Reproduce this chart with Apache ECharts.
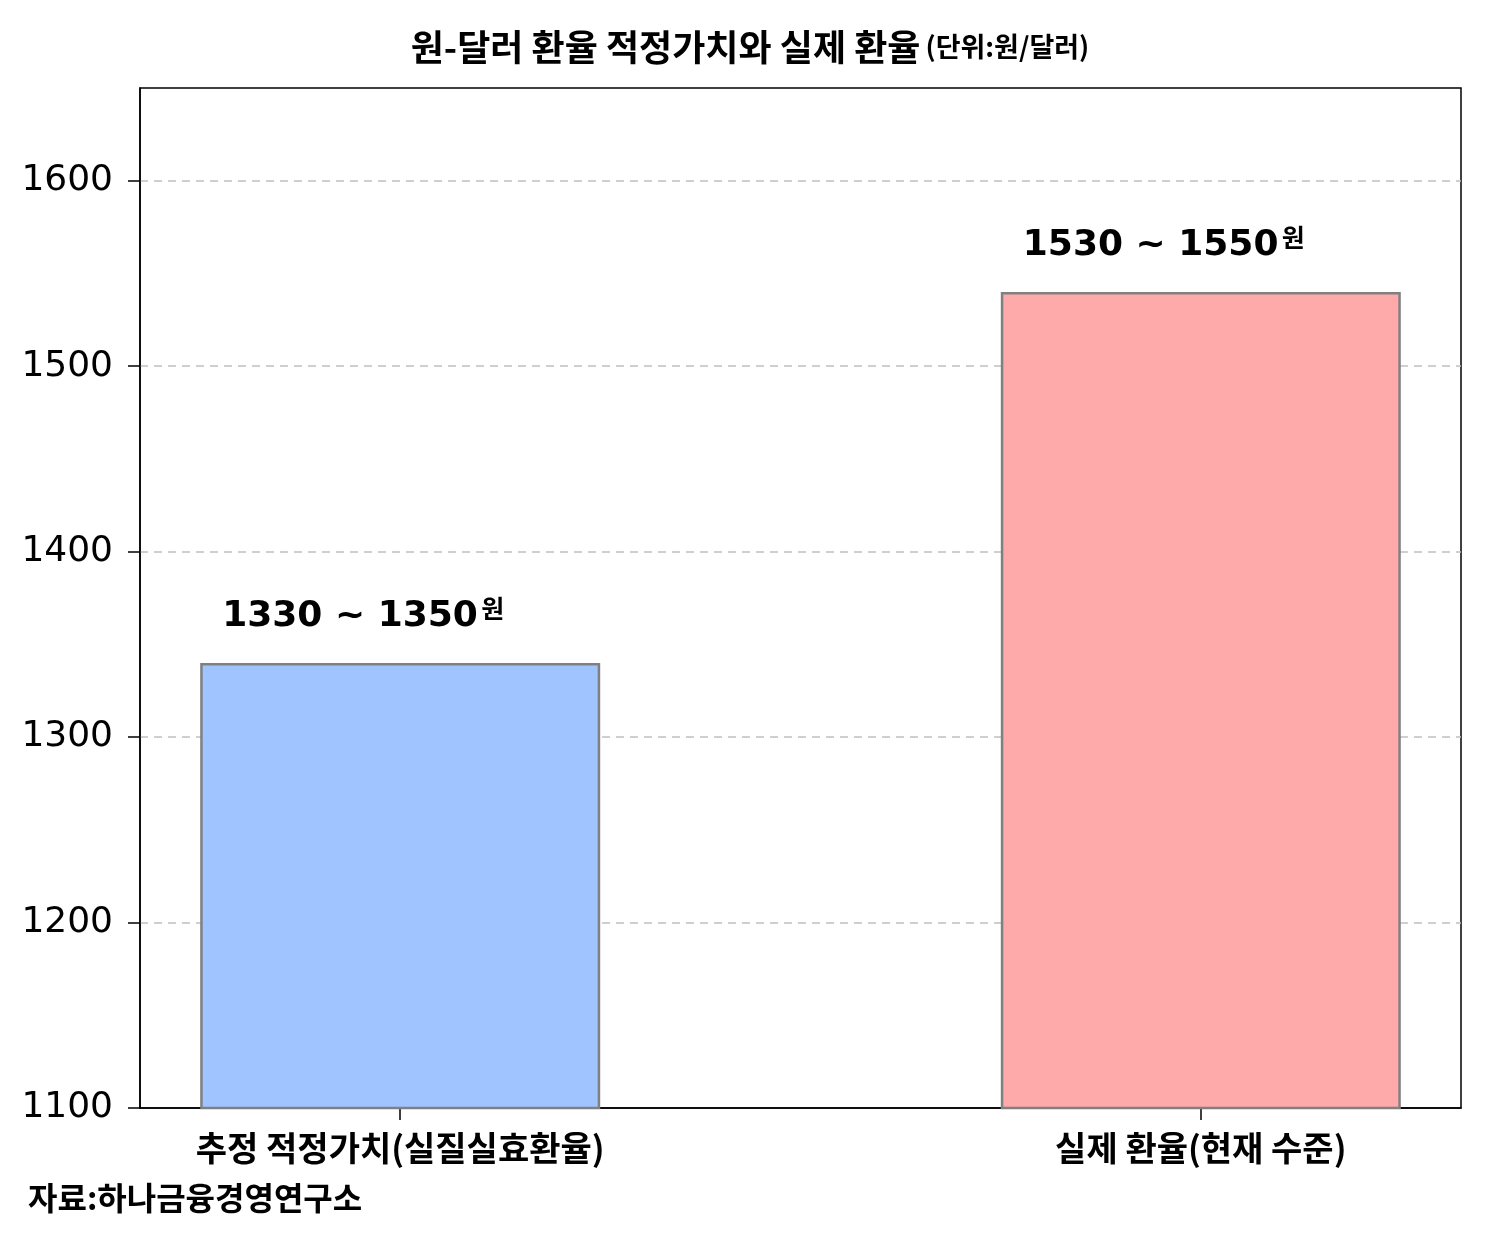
<!DOCTYPE html>
<html>
<head>
<meta charset="utf-8">
<script src="https://cdn.jsdelivr.net/npm/echarts@6/dist/echarts.min.js"></script>
<style>
  html, body { margin: 0; padding: 0; background: #fff; }
  #chart { width: 1500px; height: 1245px; }
</style>
</head>
<body>
<div id="chart"></div>
<script>
// 데이터
var categories = ['추정 적정가치(실질실효환율)', '실제 환율(현재 수준)'];
var values = [1340, 1540];
var rangeLabels = ['1330 ~ 1350', '1530 ~ 1550'];
var barColors = ['#a0c4ff', '#ffaaaa'];
var yTicks = [1100, 1200, 1300, 1400, 1500, 1600];

var FONT = '"DejaVu Sans", "Noto Sans CJK KR", sans-serif';
var KFONT = '"Noto Sans CJK KR", "DejaVu Sans", sans-serif';

var chart = echarts.init(document.getElementById('chart'));

chart.setOption({
	backgroundColor: '#fff',
	animation: false,
	title: {
		text: '{m|원-달러 환율 적정가치와 실제 환율} {s|(단위:원/달러)}',
		left: 'center',
		top: 24,
		textStyle: {
			rich: {
				m: { fontFamily: KFONT, fontSize: 36, fontWeight: 'bold', color: '#000' },
				s: { fontFamily: KFONT, fontSize: 27, fontWeight: 'bold', color: '#000' }
			}
		}
	},
	grid: {
		left: 140,
		right: 39,
		top: 88,
		bottom: 137,
		show: true,
		borderColor: '#000',
		borderWidth: 1.5
	},
	xAxis: {
		type: 'value',
		min: -0.325,
		max: 1.325,
		axisLine: { show: true, onZero: false, lineStyle: { color: '#000', width: 1.5 } },
		splitLine: { show: false },
		axisTick: {
			show: true,
			customValues: [0, 1],
			length: 12,
			lineStyle: { color: '#000', width: 1.5 }
		},
		axisLabel: {
			customValues: [0, 1],
			margin: 23,
			fontFamily: KFONT,
			fontSize: 34,
			fontWeight: 'bold',
			color: '#000',
			formatter: function (v) { return categories[Math.round(v)] || ''; }
		}
	},
	yAxis: {
		type: 'value',
		min: 1100,
		max: 1650,
		interval: 100,
		axisLine: { show: true, onZero: false, lineStyle: { color: '#000', width: 1.5 } },
		axisTick: {
			show: true,
			customValues: yTicks,
			length: 12,
			lineStyle: { color: '#000', width: 1.5 }
		},
		axisLabel: {
			customValues: yTicks,
			margin: 27,
			fontFamily: FONT,
			fontSize: 36,
			color: '#000',
			formatter: function (v) { return String(v); }
		},
		splitLine: {
			show: true,
			showMinLine: false,
			lineStyle: { color: '#c0c0c0', type: [8, 6], width: 1.5 }
		}
	},
	series: [{
		type: 'bar',
		barWidth: 400,
		data: values.map(function (v, i) {
			return {
				value: [i, v],
				itemStyle: { color: barColors[i], borderColor: '#808080', borderWidth: 2.5 },
				label: {
					show: true,
					position: 'top',
					distance: 26,
					offset: [-37, 0],
					formatter: '{n|' + rangeLabels[i] + '} {u|원}',
					rich: {
						n: { fontFamily: FONT, fontSize: 36, fontWeight: 'bold', color: '#000' },
						u: { fontFamily: KFONT, fontSize: 25, fontWeight: 'bold', color: '#000', verticalAlign: 'top', padding: [0, 0, 16, 0] }
					}
				}
			};
		})
	}],
	graphic: [{
		type: 'text',
		left: 28,
		top: 1182,
		style: {
			text: '자료:하나금융경영연구소',
			fontFamily: KFONT,
			fontSize: 32,
			fontWeight: 'bold',
			fill: '#000'
		}
	}]
});
</script>
</body>
</html>
